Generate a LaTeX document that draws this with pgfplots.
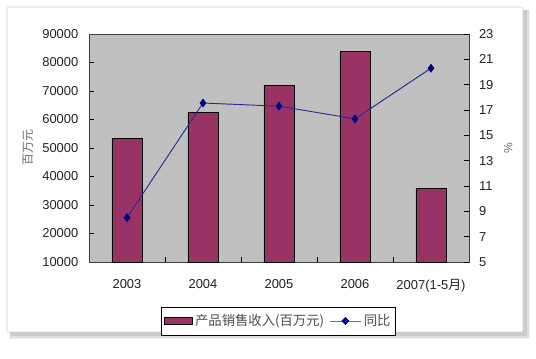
\documentclass[border=0pt]{standalone}
\usepackage{pgfplots}
\pgfplotsset{compat=1.18}
\usepackage{fontspec}
\setmainfont{Liberation Sans}
\newfontfamily\cjk{Noto Sans CJK SC}
\definecolor{barc}{HTML}{993366}
\definecolor{navyc}{HTML}{000080}
\definecolor{linec}{HTML}{2A2A9A}
\definecolor{legline}{HTML}{6666CC}
\definecolor{plotbg}{HTML}{C0C0C0}
\definecolor{axc}{HTML}{404040}
\definecolor{txt}{HTML}{222222}
\definecolor{lbl}{HTML}{707070}
\begin{document}
\begin{tikzpicture}
\useasboundingbox (0,0) rectangle (402pt,269.25pt);
\fill[white] (0,0) rectangle (402pt,269.25pt);
% shadow
\fill[black!6] (7.5pt,15pt) rectangle (397.5pt,261.75pt);
\fill[black!12] (7.5pt,16pt) rectangle (396.5pt,261.75pt);
\fill[black!20] (7.5pt,17.25pt) rectangle (395.25pt,261.75pt);
\filldraw[fill=white, draw=black!18, rounded corners=1.5pt] (5.25pt,20.25pt) rectangle (392.25pt,264pt);

\begin{axis}[
  at={(66.75pt,72.75pt)}, anchor=south west,
  scale only axis, width=285pt, height=171pt,
  xmin=-0.5, xmax=4.5, ymin=10000, ymax=90000,
  axis background/.style={fill=plotbg},
  axis line style={axc, line width=0.6pt},
  tick align=inside,
  major tick length=3.5pt,
  tick style={black, line width=0.6pt},
  ytick={10000,20000,...,90000},
  ytick pos=left,
  scaled y ticks=false,
  yticklabel style={font=\fontsize{9.7}{11}\selectfont, text=txt, xshift=-4.5pt, /pgf/number format/1000 sep={}},
  /pgf/number format/assume math mode=true,
  xtick={0.5,1.5,2.5,3.5},
  xticklabels={},
  xtick pos=bottom,
  extra x ticks={0,1,2,3,4},
  extra x tick labels={2003,2004,2005,2006,{2007(1-5{\cjk 月})}},
  extra x tick style={major tick length=0pt, tick label style={font=\fontsize{9.7}{11}\selectfont, text=txt, yshift=-9.75pt}},
  ylabel={\cjk 百万元},
  ylabel style={font=\fontsize{9}{11}\selectfont, text=lbl, anchor=center, at={(axis description cs:-0.161,0.5)}},
  clip=false,
  legend style={at={(0.4987,-0.259)}, anchor=center, draw=black, line width=0.6pt, fill=white,
     legend columns=2, font=\cjk\fontsize{10}{11}\selectfont, text=black!70,
     /tikz/every even column/.append style={column sep=2pt},
     inner xsep=2pt, inner ysep=3.5pt},
]
\addplot[ybar, bar width=0.395, fill=barc, draw=black, line width=0.6pt,
  legend image code/.code={\draw[fill=barc, draw=black, line width=0.5pt] (0pt,-2.6pt) rectangle (21pt,2.6pt);}]
  coordinates {(0,53300) (1,62500) (2,72100) (3,83900) (4,35900)};
\addlegendentry{产品销售收入(百万元)}
\addlegendimage{legend image code/.code={\draw[legline, line width=0.8pt] (0pt,0pt) -- (23pt,0pt); \fill[navyc] (11.5pt,2.6pt) -- (14.1pt,0pt) -- (11.5pt,-2.6pt) -- (8.9pt,0pt) -- cycle;}}
\addlegendentry{同比}
\end{axis}

\begin{axis}[
  at={(66.75pt,72.75pt)}, anchor=south west,
  scale only axis, width=285pt, height=171pt,
  xmin=-0.5, xmax=4.5, ymin=5, ymax=23,
  axis x line=none,
  axis y line*=right,
  axis line style={axc, line width=0.6pt},
  tick align=inside,
  major tick length=3.5pt,
  tick style={black, line width=0.6pt},
  ytick={5,7,...,23},
  yticklabel style={font=\fontsize{9.7}{11}\selectfont, text=txt, xshift=4pt},
  /pgf/number format/assume math mode=true,
  ylabel={\%},
  ylabel style={font=\fontsize{9}{11}\selectfont, text=lbl, anchor=center, at={(axis description cs:1.103,0.5)}},
]
\addplot[draw=linec, line width=0.7pt, mark=diamond*, mark size=2.8pt, mark options={fill=navyc, draw=navyc}]
  coordinates {(0,8.5) (1,17.55) (2,17.3) (3,16.3) (4,20.3)};
\end{axis}
\end{tikzpicture}
\end{document}
